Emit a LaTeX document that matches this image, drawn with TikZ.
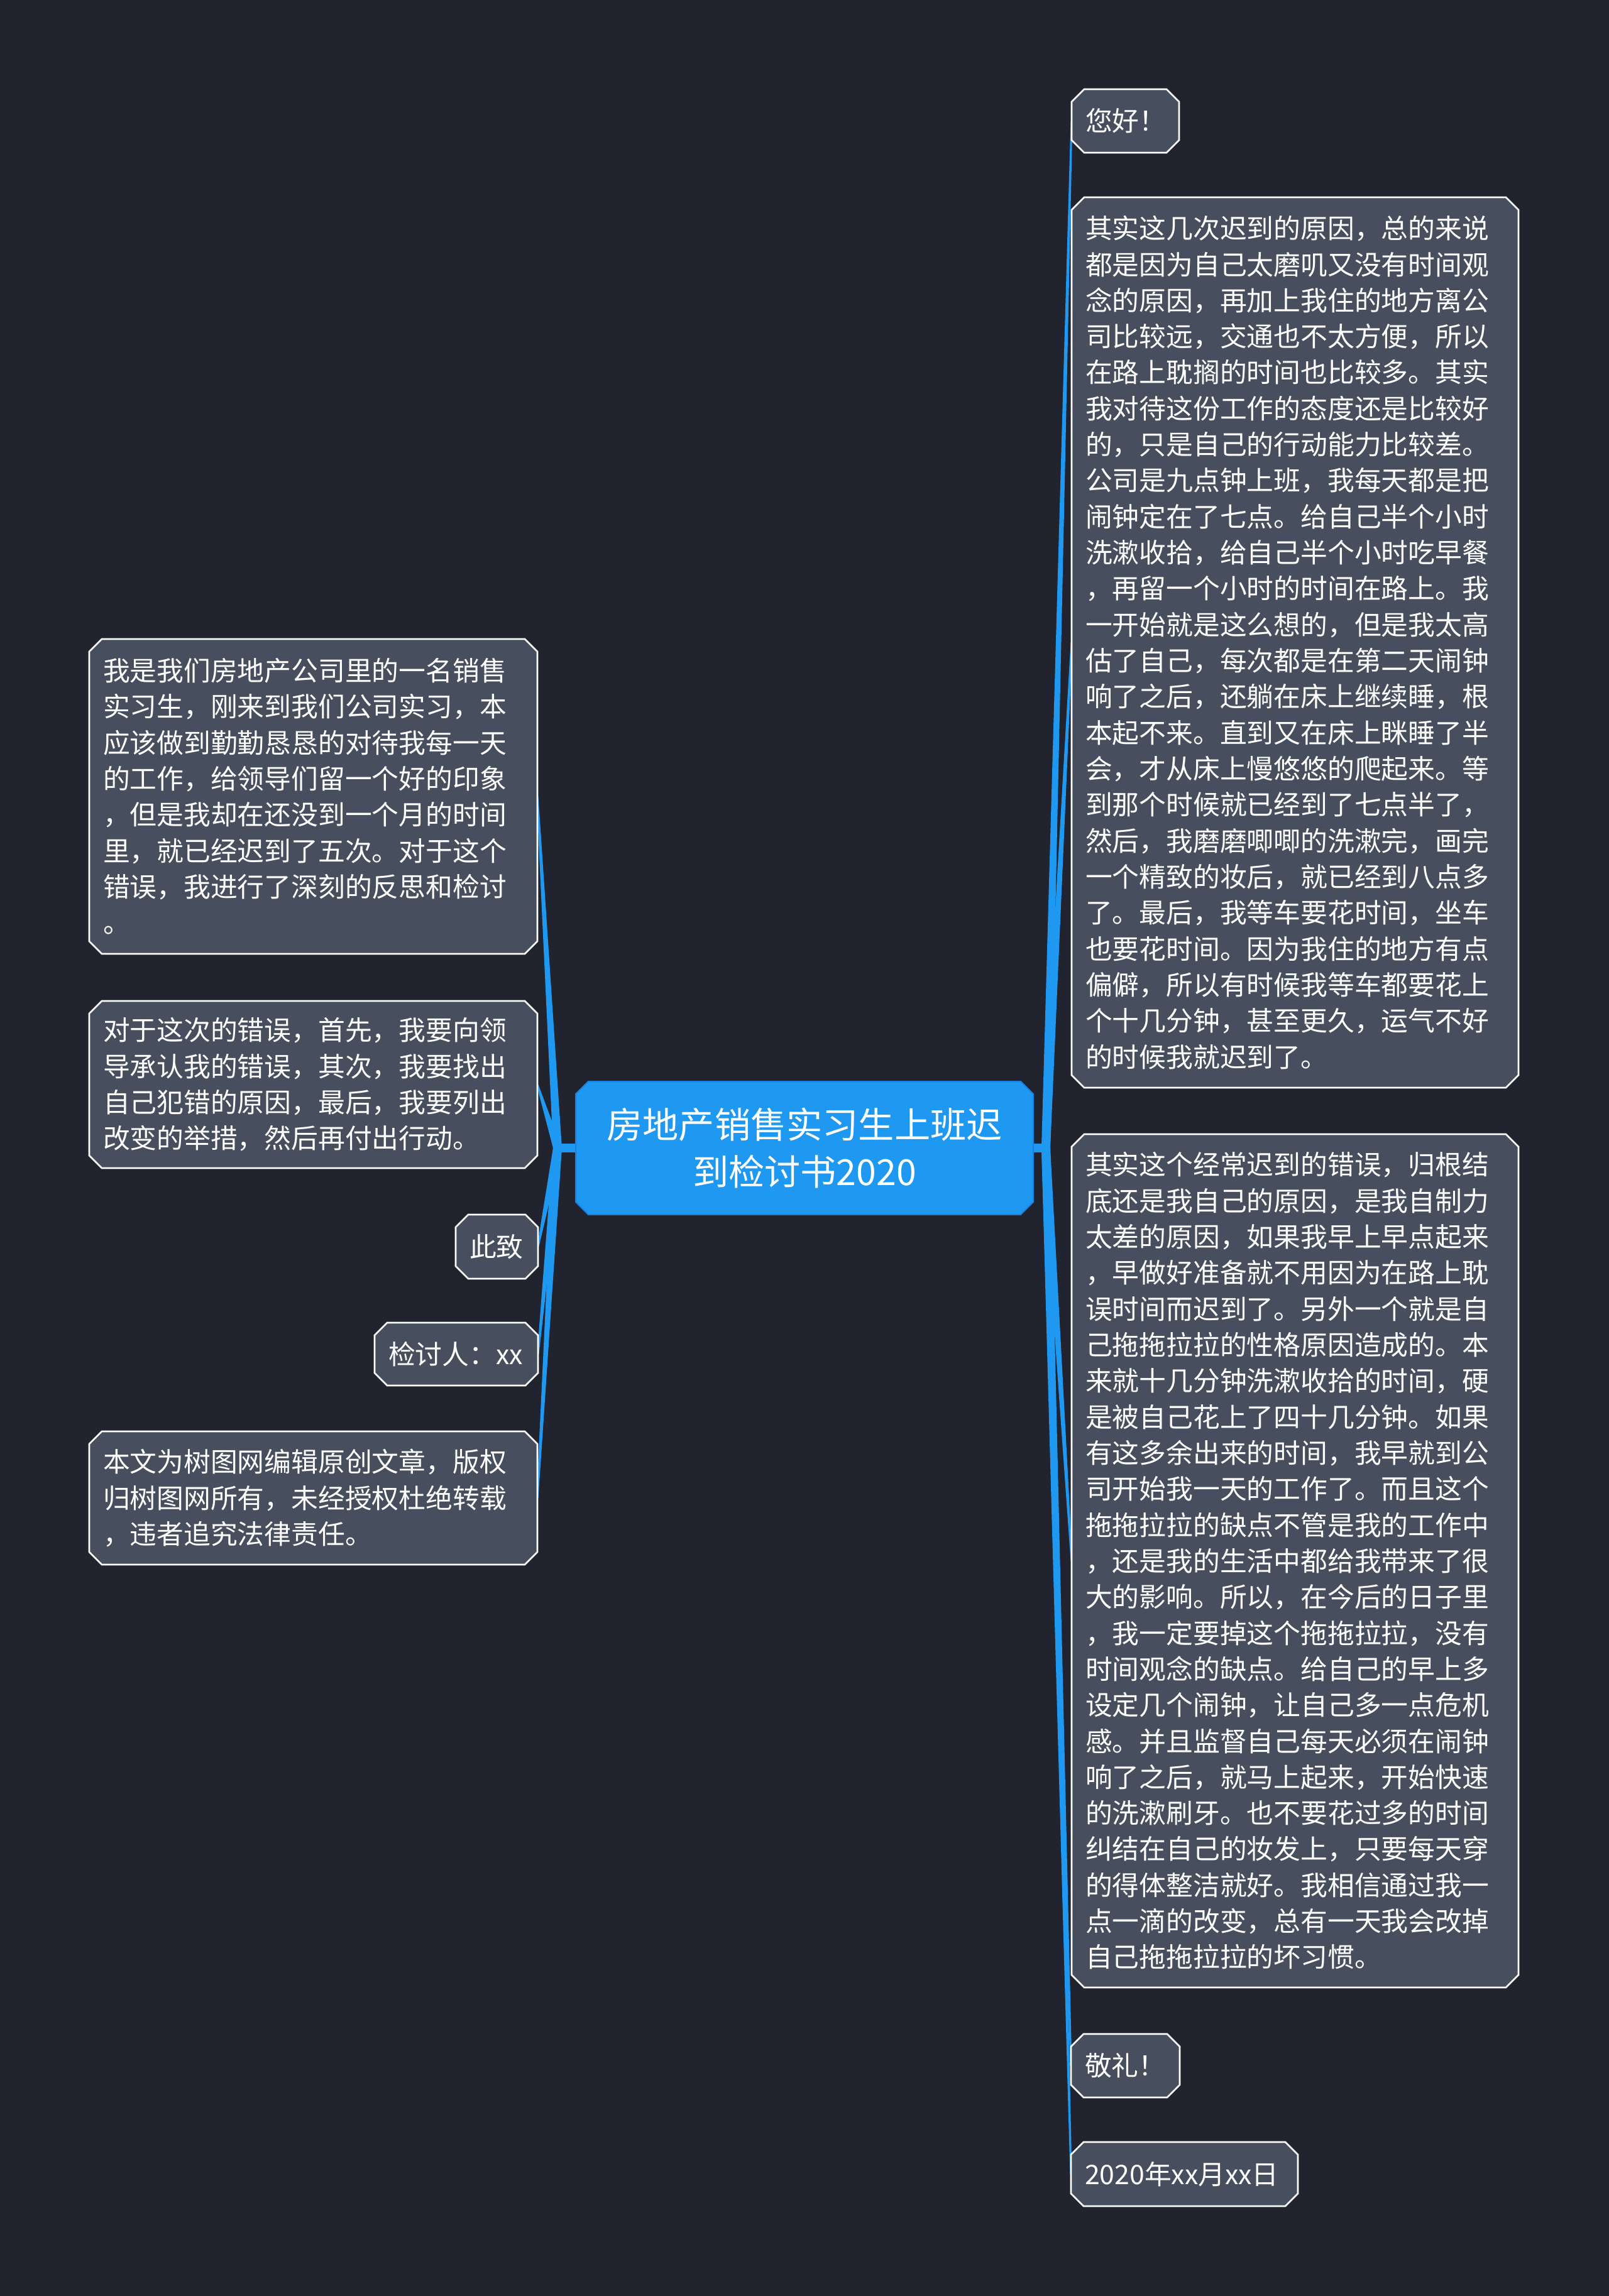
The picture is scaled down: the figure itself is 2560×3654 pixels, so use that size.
\documentclass[tikz,border=0pt]{standalone}
\usepackage{fontspec}
\setmainfont{Noto Sans CJK SC}
\usetikzlibrary{calc}
\definecolor{bgc}{HTML}{21242F}
\definecolor{nodefill}{HTML}{474E5E}
\definecolor{mainblue}{HTML}{1E98F0}
\definecolor{mainborder}{HTML}{1C80DE}
\definecolor{branchc}{HTML}{1E98F0}
\pgfdeclarelayer{bg}
\pgfdeclarelayer{links}
\pgfdeclarelayer{shapes}
\pgfsetlayers{bg,links,shapes,main}
\tikzset{
  txt/.style={rectangle, inner xsep=5.5pt, inner ysep=0pt, outer sep=0pt, text=white, align=left,
    font=\fontsize{10.7pt}{14.33pt}\selectfont},
  ctr/.style={rectangle, inner xsep=5.5pt, inner ysep=0pt, outer sep=0pt, text=white, align=center,
    font=\fontsize{14.3pt}{18.75pt}\selectfont},
  oct/.style={fill=nodefill, draw=white, line width=0.65pt},
  octc/.style={fill=mainblue, draw=mainborder, line width=0.5pt},
  branch/.style={fill=branchc},
  stub/.style={draw=branchc, line width=3.5pt},
}
% #1 name, #2 x1, #3 y1, #4 x2, #5 y2, #6 node style, #7 shape style, #8 text
\newcommand{\bnode}[8]{%
  \pgfmathsetmacro\bw{(#4-#2)*0.25}%
  \pgfmathsetmacro\bh{(#5-#3)*0.25}%
  \pgfmathsetmacro\tw{(#4-#2)*0.25-11}%
  \node[#6, minimum width=\bw pt, minimum height=\bh pt, text width=\tw pt] (#1) at ({(#2+#4)/2},{(#3+#5)/2}) {#8};
  \begin{pgfonlayer}{shapes}
  \path[#7] ($(#1.north west)+(20,0)$) -- ($(#1.north east)+(-20,0)$) -- ($(#1.north east)+(0,20)$)
    -- ($(#1.south east)+(0,-20)$) -- ($(#1.south east)+(-20,0)$) -- ($(#1.south west)+(20,0)$)
    -- ($(#1.south west)+(0,-20)$) -- ($(#1.north west)+(0,20)$) -- cycle;
  \end{pgfonlayer}}
\newcommand{\twig}[2]{%
  \begin{pgfonlayer}{links}
  \fill[branch] ($(#1)+(-7,0)$) -- ($(#2)+(-1.5,0)$) -- ($(#2)+(1.5,0)$) -- ($(#1)+(7,0)$) -- cycle;
  \end{pgfonlayer}}
\begin{document}
\begin{tikzpicture}[x=0.25pt,y=-0.25pt]
\useasboundingbox (0,0) rectangle (2560,3654);
\begin{pgfonlayer}{bg}
\fill[bgc] (0,0) rectangle (2560,3654);
\end{pgfonlayer}

% center
\bnode{center}{916}{1721}{1644}{1933}{ctr}{octc}{房地产销售实习生上班迟\\到检讨书2020}

% right side
\bnode{r1}{1705}{142}{1876}{243}{txt}{oct}{您好！}
\bnode{r2}{1705}{314}{2416}{1731}{txt}{oct}{其实这几次迟到的原因，总的来说\\
都是因为自己太磨叽又没有时间观\\
念的原因，再加上我住的地方离公\\
司比较远，交通也不太方便，所以\\
在路上耽搁的时间也比较多。其实\\
我对待这份工作的态度还是比较好\\
的，只是自己的行动能力比较差。\\
公司是九点钟上班，我每天都是把\\
闹钟定在了七点。给自己半个小时\\
洗漱收拾，给自己半个小时吃早餐\\
，再留一个小时的时间在路上。我\\
一开始就是这么想的，但是我太高\\
估了自己，每次都是在第二天闹钟\\
响了之后，还躺在床上继续睡，根\\
本起不来。直到又在床上眯睡了半\\
会，才从床上慢悠悠的爬起来。等\\
到那个时候就已经到了七点半了，\\
然后，我磨磨唧唧的洗漱完，画完\\
一个精致的妆后，就已经到八点多\\
了。最后，我等车要花时间，坐车\\
也要花时间。因为我住的地方有点\\
偏僻，所以有时候我等车都要花上\\
个十几分钟，甚至更久，运气不好\\
的时候我就迟到了。}
\bnode{r3}{1705}{1805}{2416}{3163}{txt}{oct}{其实这个经常迟到的错误，归根结\\
底还是我自己的原因，是我自制力\\
太差的原因，如果我早上早点起来\\
，早做好准备就不用因为在路上耽\\
误时间而迟到了。另外一个就是自\\
己拖拖拉拉的性格原因造成的。本\\
来就十几分钟洗漱收拾的时间，硬\\
是被自己花上了四十几分钟。如果\\
有这多余出来的时间，我早就到公\\
司开始我一天的工作了。而且这个\\
拖拖拉拉的缺点不管是我的工作中\\
，还是我的生活中都给我带来了很\\
大的影响。所以，在今后的日子里\\
，我一定要掉这个拖拖拉拉，没有\\
时间观念的缺点。给自己的早上多\\
设定几个闹钟，让自己多一点危机\\
感。并且监督自己每天必须在闹钟\\
响了之后，就马上起来，开始快速\\
的洗漱刷牙。也不要花过多的时间\\
纠结在自己的妆发上，只要每天穿\\
的得体整洁就好。我相信通过我一\\
点一滴的改变，总有一天我会改掉\\
自己拖拖拉拉的坏习惯。}
\bnode{r4}{1704}{3237}{1877}{3338}{txt}{oct}{敬礼！}
\bnode{r5}{1704}{3409}{2065}{3511}{txt}{oct}{2020年xx月xx日}

% left side
\bnode{l1}{142}{1017}{855}{1518}{txt}{oct}{我是我们房地产公司里的一名销售\\
实习生，刚来到我们公司实习，本\\
应该做到勤勤恳恳的对待我每一天\\
的工作，给领导们留一个好的印象\\
，但是我却在还没到一个月的时间\\
里，就已经迟到了五次。对于这个\\
错误，我进行了深刻的反思和检讨\\
。}
\bnode{l2}{142}{1593}{855}{1859}{txt}{oct}{对于这次的错误，首先，我要向领\\
导承认我的错误，其次，我要找出\\
自己犯错的原因，最后，我要列出\\
改变的举措，然后再付出行动。}
\bnode{l3}{725}{1933}{856}{2035}{txt}{oct}{此致}
\bnode{l4}{596}{2105}{856}{2205}{txt}{oct}{检讨人：xx}
\bnode{l5}{142}{2278}{855}{2490}{txt}{oct}{本文为树图网编辑原创文章，版权\\
归树图网所有，未经授权杜绝转载\\
，违者追究法律责任。}

% junctions
\coordinate (jr) at (1664,1827);
\coordinate (jl) at (887,1827);
\begin{pgfonlayer}{links}
\draw[stub] (center.east) -- (jr);
\draw[stub] (center.west) -- (jl);
\end{pgfonlayer}
\twig{jr}{r1.west}
\twig{jr}{r2.west}
\twig{jr}{r3.west}
\twig{jr}{r4.west}
\twig{jr}{r5.west}
\twig{jl}{l1.east}
\twig{jl}{l2.east}
\twig{jl}{l3.east}
\twig{jl}{l4.east}
\twig{jl}{l5.east}
\end{tikzpicture}
\end{document}
